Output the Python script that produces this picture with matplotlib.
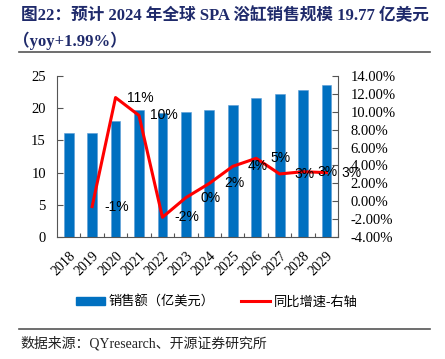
import matplotlib
matplotlib.use("Agg")
import matplotlib.pyplot as plt
from matplotlib.patches import Patch
from matplotlib.lines import Line2D
from matplotlib.ticker import FuncFormatter

years = ["2018", "2019", "2020", "2021", "2022", "2023",
         "2024", "2025", "2026", "2027", "2028", "2029"]
sales = [16.2, 16.1, 17.96, 19.67, 19.31, 19.39,
         19.77, 20.54, 21.53, 22.18, 22.91, 23.64]
growth_years = years[1:]
growth = [-0.6, 11.6, 9.6, -1.8, 0.4, 1.99, 3.9, 4.8, 3.05, 3.3, 3.2]
growth_labels = ["-1%", "11%", "10%", "-2%", "0%", "2%", "4%", "5%", "3%", "3%", "3%"]

serif_cjk = ["Liberation Serif", "Noto Sans CJK SC"]

fig = plt.figure(figsize=(4.45, 3.59), dpi=100)
ax = fig.add_axes([0.128, 0.340, 0.632, 0.448])

# bars on the left axis
x = list(range(len(years)))
ax.bar(x, sales, width=0.42, color="#0070C0", edgecolor="#5B9BD5", linewidth=0.4, zorder=2)
ax.set_xlim(-0.5, len(years) - 0.5)
ax.set_ylim(0, 25)
ax.set_yticks([0, 5, 10, 15, 20, 25])
ax.set_xticks([i + 0.5 for i in x], minor=False)
ax.set_xticklabels([])
ax.tick_params(axis="x", which="major", direction="in", length=3, color="#555555")
ax.set_xticks(x, minor=True)
ax.set_xticklabels(years, minor=True, rotation=45, ha="right", va="top",
                   rotation_mode="anchor", family="Liberation Serif", fontsize=10)
ax.tick_params(axis="x", which="minor", length=0, pad=9)
ax.tick_params(axis="y", direction="in", length=4, color="#555555", labelsize=10.5, pad=8)
for lab in ax.get_yticklabels():
    lab.set_family("Liberation Serif")
ax.spines["top"].set_visible(False)
ax.spines["right"].set_visible(False)
for s in ["left", "bottom"]:
    ax.spines[s].set_color("#555555")
    ax.spines[s].set_linewidth(0.8)

# growth line on the right axis
ax2 = ax.twinx()
gx = [years.index(y) for y in growth_years]
ax2.plot(gx, growth, color="#FF0000", linewidth=2.2, zorder=3)
ax2.set_ylim(-4, 14)
ax2.set_yticks(range(-4, 15, 2))
ax2.yaxis.set_major_formatter(FuncFormatter(lambda v, p: f"{v:.2f}%"))
ax2.tick_params(axis="y", direction="in", length=4, color="#555555", labelsize=10.5, pad=9)
for lab in ax2.get_yticklabels():
    lab.set_family("Liberation Serif")
for s in ["top", "left", "bottom"]:
    ax2.spines[s].set_visible(False)
ax2.spines["right"].set_color("#555555")
ax2.spines["right"].set_linewidth(0.8)

# data labels sit one category to the right of each point
for xi, yi, t in zip(gx, growth, growth_labels):
    ax2.text(xi + 1.05, yi, t, ha="center", va="center", fontsize=10,
             family="Liberation Sans", color="black", clip_on=False, zorder=4)

# title
title_color = "#1F2A6B"
fig.text(0.047, 0.955, "图22：预计 2024 年全球 SPA 浴缸销售规模 19.77 亿美元",
         fontsize=12, fontweight="bold", color=title_color, family=serif_cjk,
         ha="left", va="center")
fig.text(0.030, 0.885, "（yoy+1.99%）", fontsize=12, fontweight="bold",
         color=title_color, family=serif_cjk, ha="left", va="center")
fig.add_artist(Line2D([0.043, 0.966], [0.856, 0.856], color="#555555", linewidth=1.2))

# legend
handles = [Patch(facecolor="#0070C0", edgecolor="#0070C0"),
           Line2D([0], [0], color="#FF0000", linewidth=2.2)]
fig.legend(handles, ["销售额（亿美元）", "同比增速-右轴"], loc="center",
           bbox_to_anchor=(0.487, 0.159), ncol=2, frameon=False,
           prop={"family": serif_cjk, "size": 9.5}, handlelength=2.2,
           handleheight=0.55, columnspacing=2.0, handletextpad=0.3)

# source
fig.add_artist(Line2D([0.043, 0.966], [0.083, 0.083], color="#555555", linewidth=1.2))
fig.text(0.047, 0.045, "数据来源：QYresearch、开源证券研究所", fontsize=10,
         family=serif_cjk, color="#222222", ha="left", va="center")

fig.savefig("out.png", dpi=100)
